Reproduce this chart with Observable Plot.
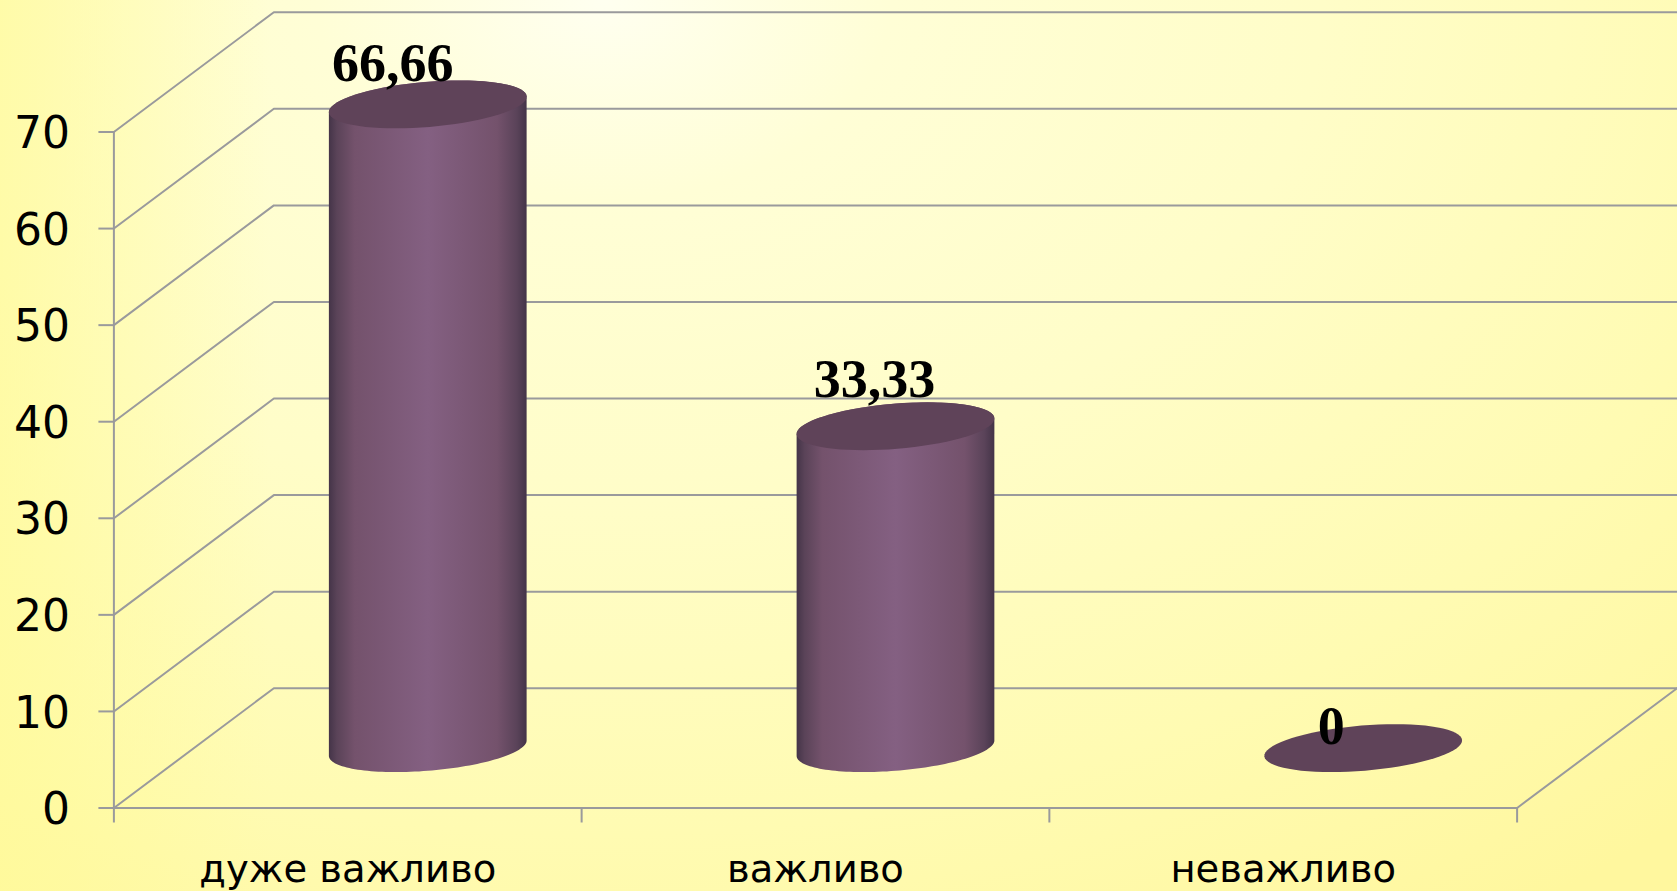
<!DOCTYPE html>
<html>
<head>
<meta charset="utf-8">
<script src="https://cdn.jsdelivr.net/npm/d3@7"></script>
<script src="https://cdn.jsdelivr.net/npm/@observablehq/plot@0.6"></script>
<style>
html,body{margin:0;padding:0;background:#fffbb0;overflow:hidden}
svg{display:block}
</style>
</head>
<body>
<div id="chart"></div>
<script>
const categories = ["дуже важливо", "важливо", "неважливо"];
const values = [66.66, 33.33, 0];
const yTicks = [0, 10, 20, 30, 40, 50, 60, 70];
const xBoundaries = [0, 1, 2, 3];

// Oblique projection of the chart's depth axis, in data units
const depthX = 0.342;
const depthY = 12.4;
const radiusX = 0.2;     // cylinder radius, category units
const radiusZ = 0.2;     // cylinder radius, fraction of the depth
const project = (x, y, z) => ({x: x + z * depthX, y: y + z * depthY});

const gridColor = "#9a9a9c";
const uiFont = "'DejaVu Sans', sans-serif";

// Wall and floor lines
const wallLines = yTicks.flatMap((v) => [
  {id: v, ...project(0, v, 0)},
  {id: v, ...project(0, v, 1)},
  {id: v, ...project(3.2, v, 1)}
]);
const floorEdges = [
  {id: "front", ...project(0, 0, 0)},
  {id: "front", ...project(3, 0, 0)},
  {id: "side", ...project(3, 0, 0)},
  {id: "side", ...project(3, 0, 1)}
];
const yAxisLine = [project(0, 0, 0), project(0, 70, 0)];

// Cylinder outlines
const ellipsePoint = (i, y, t) => ({
  i,
  x: i + 0.5 + 0.5 * depthX + radiusX * Math.cos(t) + radiusZ * depthX * Math.sin(t),
  y: y + 0.5 * depthY + radiusZ * depthY * Math.sin(t)
});
const silhouette = Math.atan2(radiusZ * depthX, radiusX);
const steps = d3.range(0, 1.0001, 1 / 72);
const caps = values.flatMap((v, i) =>
  steps.map((s) => ellipsePoint(i, v, s * 2 * Math.PI))
);
const bodies = values.flatMap((v, i) => v <= 0 ? [] : [
  ...steps.map((s) => ellipsePoint(i, 0, silhouette - s * Math.PI)),
  ...steps.map((s) => ellipsePoint(i, v, silhouette + Math.PI - s * Math.PI))
]);

const labelOffset = [[-35, 1], [-21, -5], [-32, 20]];
const labelText = (v) => String(v).replace(".", ",");

const gradient = () => {
  const defs = d3.create("svg:defs");
  const g = defs.append("linearGradient").attr("id", "cyl")
    .attr("x1", 0).attr("x2", 1).attr("y1", 0).attr("y2", 0);
  [[0, "#443448"], [0.04, "#5a4358"], [0.13, "#74526c"], [0.5, "#846082"],
   [0.85, "#74526c"], [0.95, "#5a4359"], [1, "#443448"]]
    .forEach(([o, c]) => g.append("stop").attr("offset", o).attr("stop-color", c));
  return defs.node();
};

const chart = Plot.plot({
  width: 1677,
  height: 891,
  marginLeft: 113.4,
  marginRight: 160.4,
  marginTop: 131.5,
  marginBottom: 83.5,
  style: {
    background: "linear-gradient(90deg, rgba(255,250,150,.65), rgba(255,250,150,0) 16%), radial-gradient(ellipse 95% 125% at 36% 0%, #fffff0 0%, #fffed6 18%, #fffdc8 45%, #fffbb2 75%, #fff79e 100%)",
    overflow: "visible"
  },
  x: {domain: [0, 3], axis: null},
  y: {domain: [0, 70], axis: null},
  marks: [
    gradient,
    Plot.line(wallLines, {x: "x", y: "y", z: "id", stroke: gridColor, strokeWidth: 2}),
    Plot.line(floorEdges, {x: "x", y: "y", z: "id", stroke: gridColor, strokeWidth: 2}),
    Plot.line(yAxisLine, {x: "x", y: "y", stroke: gridColor, strokeWidth: 2}),
    Plot.axisY({
      ticks: yTicks, tickSize: 15, tickFormat: () => "", label: null,
      stroke: gridColor, strokeWidth: 2
    }),
    Plot.axisY({
      ticks: yTicks, tickSize: 0, tickPadding: 44, label: null, dy: 2,
      fontSize: 44, fontFamily: uiFont, fill: "#000"
    }),
    Plot.axisX({
      ticks: xBoundaries, tickSize: 15, tickFormat: () => "", label: null,
      stroke: gridColor, strokeWidth: 2
    }),
    Plot.text(categories, {
      x: (d, i) => i + 0.5, frameAnchor: "bottom", dy: 74, lineAnchor: "bottom",
      text: (d) => d, fontSize: 38.5, fontFamily: uiFont, fill: "#000"
    }),
    Plot.line(bodies, {x: "x", y: "y", z: "i", fill: "url(#cyl)", stroke: "none"}),
    Plot.line(caps, {x: "x", y: "y", z: "i", fill: "#5f4359", stroke: "none"}),
    ...values.map((v, i) => Plot.text([v], {
      x: () => i + 0.5 + 0.5 * depthX,
      y: () => v + 0.5 * depthY + radiusZ * depthY,
      text: labelText,
      dx: labelOffset[i][0], dy: labelOffset[i][1],
      lineAnchor: "bottom",
      fontFamily: "'Liberation Serif', serif", fontWeight: "bold", fontSize: 54, fill: "#000"
    }))
  ]
});
document.getElementById("chart").append(chart);
</script>
</body>
</html>
